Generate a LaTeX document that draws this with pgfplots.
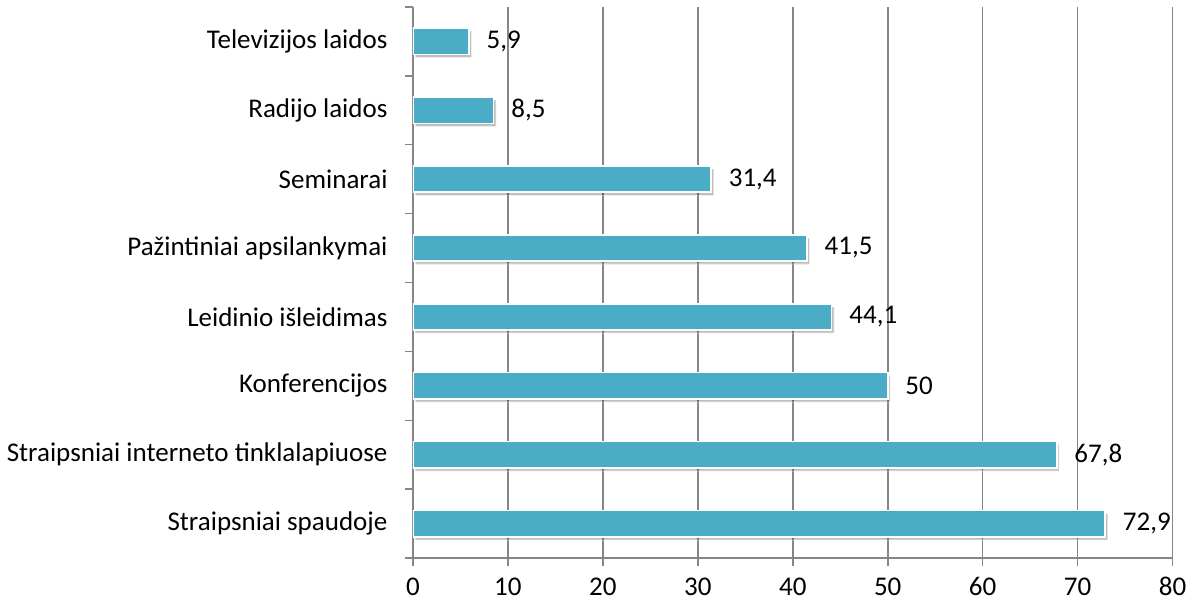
\documentclass[border=0pt]{standalone}
\usepackage{pgfplots}
\pgfplotsset{compat=1.18}
\usepackage{fontspec}
\setmainfont{Carlito}
\usetikzlibrary{shadows}
\definecolor{barblue}{HTML}{4BACC6}
\definecolor{gridgray}{HTML}{868686}
\begin{document}
\begin{tikzpicture}
\begin{axis}[
    scale only axis,
    width=374pt,
    height=271.5pt,
    xbar,
    xmin=0, xmax=80,
    ymin=0.5, ymax=8.5,
    xtick={0,10,...,80},
    ytick={0.5,1.5,...,8.5},
    yticklabels={},
    extra y ticks={1,...,8},
    extra y tick labels={Straipsniai spaudoje, Straipsniai interneto tinklalapiuose\ , Konferencijos, Leidinio išleidimas, Pažintiniai apsilankymai, Seminarai, Radijo laidos, Televizijos laidos},
    extra y tick style={major tick length=0pt, yticklabel style={xshift=-9pt}},
    axis x line*=bottom,
    axis y line*=left,
    axis line style={gridgray, line width=0.8pt},
    xmajorgrids,
    major grid style={gridgray, line width=0.8pt},
    tick style={gridgray, line width=0.8pt},
    tick align=outside,
    major tick length=4pt,
    ticklabel style={font=\fontsize{13.3}{15}\selectfont},
    xticklabel style={yshift=-2pt},
    /pgf/number format/assume math mode=true,
    bar width=13pt,
    nodes near coords,
    nodes near coords style={font=\fontsize{13.3}{15}\selectfont, black, anchor=west, xshift=5pt, /pgf/number format/use comma},
    point meta=explicit,
]
\addplot[fill=barblue, draw=white, line width=0.8pt,
    drop shadow={shadow xshift=1.2pt, shadow yshift=-1.5pt, opacity=0.25, fill=black}]
    coordinates {
    (72.9,1) [72.9]
    (67.8,2) [67.8]
    (50,3) [50]
    (44.1,4) [44.1]
    (41.5,5) [41.5]
    (31.4,6) [31.4]
    (8.5,7) [8.5]
    (5.9,8) [5.9]
};
\end{axis}
\end{tikzpicture}
\end{document}
